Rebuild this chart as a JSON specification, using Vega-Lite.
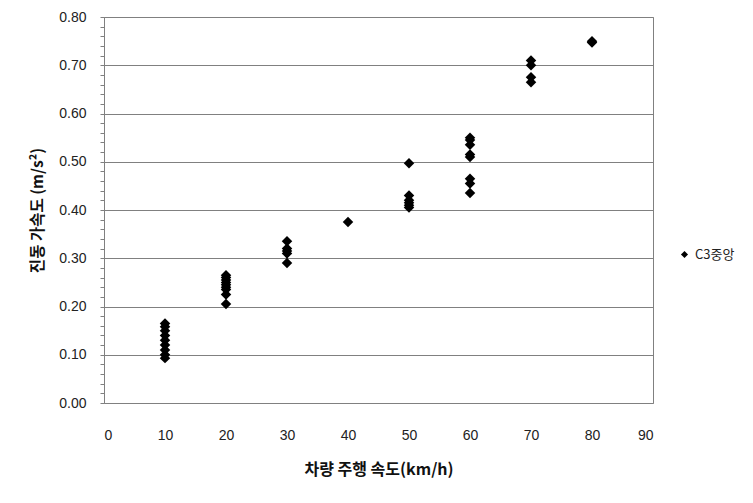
{
  "$schema": "https://vega.github.io/schema/vega-lite/v6.json",
  "width": 549,
  "height": 386,
  "autosize": "none",
  "padding": {"left": 104, "top": 17, "right": 100, "bottom": 100},
  "background": "white",
  "config": {
    "view": {"stroke": "#808080", "strokeWidth": 1},
    "font": "Liberation Sans"
  },
  "data": {
    "values": [
      {"speed": 10, "acc": 0.165, "series": "C3중앙"},
      {"speed": 10, "acc": 0.158, "series": "C3중앙"},
      {"speed": 10, "acc": 0.150, "series": "C3중앙"},
      {"speed": 10, "acc": 0.140, "series": "C3중앙"},
      {"speed": 10, "acc": 0.130, "series": "C3중앙"},
      {"speed": 10, "acc": 0.120, "series": "C3중앙"},
      {"speed": 10, "acc": 0.110, "series": "C3중앙"},
      {"speed": 10, "acc": 0.100, "series": "C3중앙"},
      {"speed": 10, "acc": 0.093, "series": "C3중앙"},
      {"speed": 20, "acc": 0.265, "series": "C3중앙"},
      {"speed": 20, "acc": 0.260, "series": "C3중앙"},
      {"speed": 20, "acc": 0.255, "series": "C3중앙"},
      {"speed": 20, "acc": 0.250, "series": "C3중앙"},
      {"speed": 20, "acc": 0.245, "series": "C3중앙"},
      {"speed": 20, "acc": 0.240, "series": "C3중앙"},
      {"speed": 20, "acc": 0.235, "series": "C3중앙"},
      {"speed": 20, "acc": 0.225, "series": "C3중앙"},
      {"speed": 20, "acc": 0.205, "series": "C3중앙"},
      {"speed": 30, "acc": 0.335, "series": "C3중앙"},
      {"speed": 30, "acc": 0.320, "series": "C3중앙"},
      {"speed": 30, "acc": 0.315, "series": "C3중앙"},
      {"speed": 30, "acc": 0.310, "series": "C3중앙"},
      {"speed": 30, "acc": 0.290, "series": "C3중앙"},
      {"speed": 40, "acc": 0.375, "series": "C3중앙"},
      {"speed": 50, "acc": 0.497, "series": "C3중앙"},
      {"speed": 50, "acc": 0.430, "series": "C3중앙"},
      {"speed": 50, "acc": 0.420, "series": "C3중앙"},
      {"speed": 50, "acc": 0.415, "series": "C3중앙"},
      {"speed": 50, "acc": 0.410, "series": "C3중앙"},
      {"speed": 50, "acc": 0.405, "series": "C3중앙"},
      {"speed": 60, "acc": 0.550, "series": "C3중앙"},
      {"speed": 60, "acc": 0.545, "series": "C3중앙"},
      {"speed": 60, "acc": 0.535, "series": "C3중앙"},
      {"speed": 60, "acc": 0.515, "series": "C3중앙"},
      {"speed": 60, "acc": 0.510, "series": "C3중앙"},
      {"speed": 60, "acc": 0.465, "series": "C3중앙"},
      {"speed": 60, "acc": 0.455, "series": "C3중앙"},
      {"speed": 60, "acc": 0.435, "series": "C3중앙"},
      {"speed": 70, "acc": 0.710, "series": "C3중앙"},
      {"speed": 70, "acc": 0.700, "series": "C3중앙"},
      {"speed": 70, "acc": 0.675, "series": "C3중앙"},
      {"speed": 70, "acc": 0.665, "series": "C3중앙"},
      {"speed": 80, "acc": 0.750, "series": "C3중앙"},
      {"speed": 80, "acc": 0.747, "series": "C3중앙"}
    ]
  },
  "mark": {"type": "point", "filled": true, "size": 110, "opacity": 1},
  "encoding": {
    "x": {
      "field": "speed",
      "type": "quantitative",
      "scale": {"domain": [0, 90], "nice": false, "zero": true},
      "axis": {
        "values": [0, 10, 20, 30, 40, 50, 60, 70, 80, 90],
        "grid": false,
        "ticks": false,
        "domain": false,
        "labelPadding": 25,
        "labelFontSize": 14,
        "labelColor": "#222222",
        "labelFont": "Liberation Sans",
        "title": "차량 주행 속도(km/h)",
        "titleFont": "Noto Sans CJK KR",
        "titleFontSize": 16,
        "titleFontWeight": "bold",
        "titleColor": "#111111",
        "titlePadding": 19
      }
    },
    "y": {
      "field": "acc",
      "type": "quantitative",
      "scale": {"domain": [0, 0.8], "nice": false, "zero": true},
      "axis": {
        "values": [0, 0.02, 0.04, 0.06, 0.08, 0.1, 0.12, 0.14, 0.16, 0.18, 0.2, 0.22, 0.24, 0.26, 0.28, 0.3, 0.32, 0.34, 0.36, 0.38, 0.4, 0.42, 0.44, 0.46, 0.48, 0.5, 0.52, 0.54, 0.56, 0.58, 0.6, 0.62, 0.64, 0.66, 0.68, 0.7, 0.72, 0.74, 0.76, 0.78, 0.8],
        "labelExpr": "abs(datum.value*10 - round(datum.value*10)) < 0.001 ? format(datum.value, '.2f') : ''",
        "labelOverlap": false,
        "grid": true,
        "gridColor": "#808080",
        "gridOpacity": {"condition": {"test": "abs(datum.value*10 - round(datum.value*10)) < 0.001", "value": 1}, "value": 0},
        "tickSize": 4,
        "tickColor": "#808080",
        "domainColor": "#808080",
        "labelPadding": 14,
        "labelFontSize": 14,
        "labelColor": "#222222",
        "labelFont": "Liberation Sans",
        "title": "진동 가속도 (m/s²)",
        "titleFont": "Noto Sans CJK KR",
        "titleFontSize": 15.5,
        "titleFontWeight": "bold",
        "titleColor": "#111111",
        "titlePadding": 13
      }
    },
    "color": {
      "field": "series",
      "type": "nominal",
      "scale": {"range": ["black"]},
      "legend": {
        "orient": "none",
        "legendX": 574,
        "legendY": 231,
        "title": null,
        "symbolSize": 50,
        "labelFont": "Noto Sans CJK KR",
        "labelFontSize": 13,
        "labelColor": "#222222",
        "padding": 0
      }
    },
    "shape": {
      "field": "series",
      "type": "nominal",
      "scale": {"range": ["diamond"]}
    }
  }
}
